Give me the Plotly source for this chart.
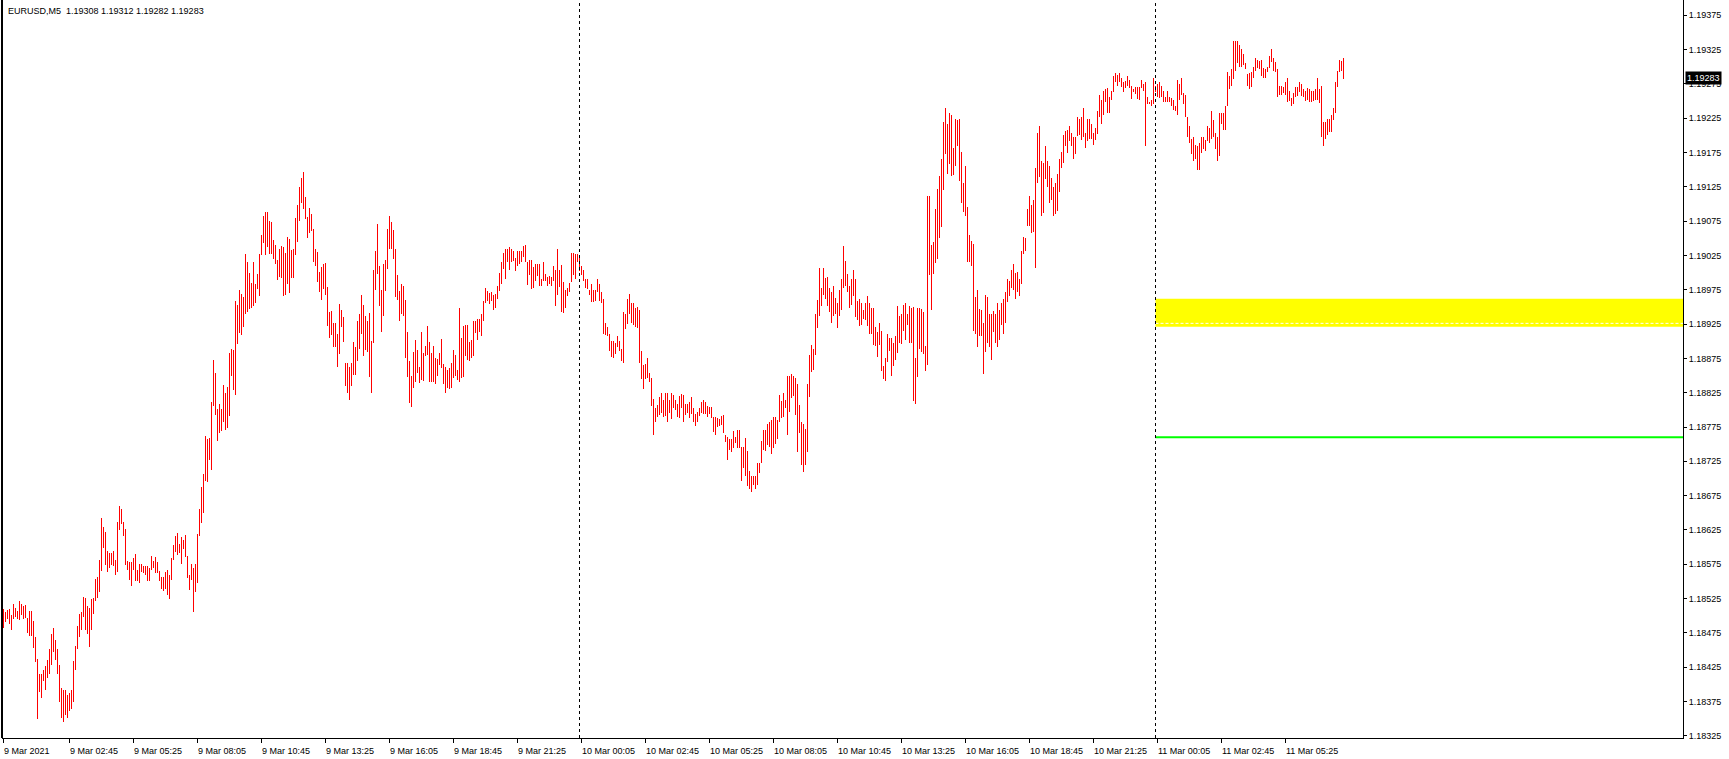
import pandas as pd
import plotly.graph_objects as go

# ---------------- data ----------------
symbol_text = "EURUSD,M5  1.19308 1.19312 1.19282 1.19283"
start_time = "2021-03-09 00:00"
bar_minutes = 5

high = [
    1.18510, 1.18505, 1.18508, 1.18510, 1.18501, 1.18517, 1.18511, 1.18507, 1.18521, 1.18517,
    1.18514, 1.18516, 1.18497, 1.18507, 1.18507, 1.18492, 1.18469, 1.18437, 1.18415, 1.18415,
    1.18421, 1.18427, 1.18435, 1.18451, 1.18473, 1.18482, 1.18465, 1.18452, 1.18428, 1.18395,
    1.18392, 1.18392, 1.18385, 1.18388, 1.18392, 1.18434, 1.18456, 1.18485, 1.18503, 1.18505,
    1.18527, 1.18526, 1.18514, 1.18512, 1.18524, 1.18526, 1.18553, 1.18557, 1.18581, 1.18642,
    1.18629, 1.18622, 1.18594, 1.18592, 1.18591, 1.18595, 1.18582, 1.18636, 1.18660, 1.18655,
    1.18637, 1.18626, 1.18580, 1.18578, 1.18578, 1.18584, 1.18590, 1.18567, 1.18575, 1.18575,
    1.18572, 1.18572, 1.18572, 1.18569, 1.18587, 1.18580, 1.18585, 1.18578, 1.18565, 1.18556,
    1.18556, 1.18564, 1.18567, 1.18559, 1.18584, 1.18603, 1.18616, 1.18621, 1.18605, 1.18615,
    1.18610, 1.18618, 1.18587, 1.18560, 1.18576, 1.18569, 1.18576, 1.18619, 1.18655, 1.18687,
    1.18706, 1.18762, 1.18758, 1.18759, 1.18812, 1.18872, 1.18853, 1.18801, 1.18809, 1.18801,
    1.18836, 1.18825, 1.18833, 1.18883, 1.18888, 1.18887, 1.18959, 1.18953, 1.18975, 1.18969,
    1.18965, 1.19027, 1.19015, 1.19000, 1.18985, 1.19015, 1.18984, 1.18998, 1.19027, 1.19054,
    1.19082, 1.19088, 1.19088, 1.19075,
    1.19074, 1.19048, 1.19040, 1.19019, 1.19035, 1.19039, 1.19037, 1.19028, 1.19052, 1.19049,
    1.19033, 1.19034, 1.19080, 1.19099, 1.19124, 1.19138, 1.19147, 1.19110, 1.19081, 1.19094,
    1.19086, 1.19064, 1.19034, 1.19030, 1.19001, 1.19008, 1.19013, 1.19014, 1.18979, 1.18943,
    1.18944, 1.18927, 1.18927, 1.18911, 1.18954, 1.18946, 1.18935, 1.18868, 1.18868, 1.18863,
    1.18868, 1.18899, 1.18891, 1.18930, 1.18939, 1.18968, 1.18953, 1.18936, 1.18929, 1.18941,
    1.18900, 1.19003, 1.19032, 1.19070, 1.19010, 1.18974, 1.19012, 1.19019, 1.19064, 1.19082,
    1.19073, 1.19062, 1.19035, 1.18997, 1.18973, 1.18984, 1.18981, 1.18960, 1.18914, 1.18871,
    1.18850, 1.18884, 1.18902, 1.18887, 1.18863, 1.18914, 1.18883, 1.18893, 1.18922, 1.18899,
    1.18883, 1.18893, 1.18876, 1.18874, 1.18883, 1.18903, 1.18867, 1.18863, 1.18858, 1.18861,
    1.18868, 1.18887, 1.18880, 1.18858, 1.18949, 1.18905, 1.18922, 1.18924, 1.18924, 1.18899,
    1.18902, 1.18930, 1.18930, 1.18933, 1.18933, 1.18939, 1.18959, 1.18978, 1.18973, 1.18970,
    1.18972, 1.18968, 1.18969, 1.18980, 1.19000, 1.19016, 1.19029, 1.19034, 1.19035, 1.19037,
    1.19034, 1.19032, 1.19021, 1.19032, 1.19032, 1.19032, 1.19038, 1.19040, 1.19016, 1.19019,
    1.19019, 1.19008, 1.19013, 1.19013, 1.19012, 1.18990,
    1.19015, 1.18998, 1.18993, 1.18995, 1.18993, 1.19010, 1.19004, 1.19034, 1.19004, 1.19011,
    1.18986, 1.18975, 1.18978, 1.18985, 1.19028, 1.19028, 1.19027, 1.19027, 1.19022, 1.19009,
    1.19003, 1.18991, 1.18991, 1.18975, 1.18983, 1.18975, 1.18975, 1.18991, 1.18984, 1.18972,
    1.18962, 1.18926, 1.18921, 1.18911, 1.18900, 1.18901, 1.18897, 1.18907, 1.18901, 1.18888,
    1.18943, 1.18940, 1.18962, 1.18969, 1.18955, 1.18955, 1.18949, 1.18950, 1.18946, 1.18886,
    1.18865, 1.18867, 1.18876, 1.18854, 1.18847, 1.18816, 1.18802, 1.18807, 1.18818, 1.18825,
    1.18815, 1.18825, 1.18825, 1.18815, 1.18825, 1.18822, 1.18815, 1.18808, 1.18820, 1.18823,
    1.18821, 1.18808, 1.18809, 1.18811, 1.18818, 1.18802, 1.18794, 1.18797, 1.18803, 1.18812,
    1.18815, 1.18812, 1.18806, 1.18804, 1.18804, 1.18790, 1.18789, 1.18788, 1.18787, 1.18791,
    1.18793, 1.18764, 1.18760, 1.18758, 1.18758, 1.18769, 1.18761, 1.18770, 1.18770, 1.18746,
    1.18746, 1.18759, 1.18740, 1.18711, 1.18703, 1.18703, 1.18703, 1.18722, 1.18722, 1.18754,
    1.18771, 1.18771, 1.18780, 1.18782, 1.18785, 1.18789, 1.18790, 1.18785, 1.18821, 1.18813,
    1.18825, 1.18814, 1.18849, 1.18850, 1.18852, 1.18849, 1.18847, 1.18837, 1.18807, 1.18783,
    1.18780, 1.18772, 1.18837, 1.18880, 1.18894,
    1.18888, 1.18939, 1.18960, 1.19006, 1.18978, 1.19006, 1.18992, 1.18993, 1.18977, 1.18971,
    1.18980, 1.18963, 1.18955, 1.18974, 1.18991, 1.19038, 1.19017, 1.18998, 1.18980, 1.18990,
    1.19003, 1.18990, 1.18959, 1.18961, 1.18955, 1.18945, 1.18955, 1.18966, 1.18955, 1.18949,
    1.18949, 1.18920, 1.18914, 1.18927, 1.18915, 1.18864, 1.18876, 1.18910, 1.18904, 1.18904,
    1.18898, 1.18908, 1.18952, 1.18936, 1.18939, 1.18953, 1.18955, 1.18940, 1.18952, 1.18949,
    1.18950, 1.18876, 1.18949, 1.18949, 1.18947, 1.18943, 1.18893, 1.19112, 1.19111, 1.19040,
    1.19044, 1.19093, 1.19121, 1.19140, 1.19165, 1.19220, 1.19239, 1.19216, 1.19233, 1.19230,
    1.19181, 1.19224, 1.19222, 1.19223, 1.19176, 1.19130, 1.19155, 1.19096, 1.19054, 1.19046,
    1.19041, 1.18965, 1.18974, 1.18947, 1.18946, 1.18926, 1.18968, 1.18965, 1.18939, 1.18940,
    1.18944, 1.18939, 1.18955, 1.18946, 1.18956, 1.18962, 1.18971, 1.18990, 1.18987, 1.19004,
    1.19013, 1.19000, 1.19001, 1.18990, 1.19032, 1.19052, 1.19051, 1.19093, 1.19111, 1.19099,
    1.19105, 1.19152, 1.19204, 1.19213, 1.19162, 1.19160, 1.19185, 1.19162, 1.19155, 1.19137,
    1.19124, 1.19130, 1.19143, 1.19165, 1.19175, 1.19200, 1.19206, 1.19207, 1.19213, 1.19204,
    1.19197, 1.19197, 1.19226, 1.19224, 1.19227,
    1.19239, 1.19204, 1.19224, 1.19223, 1.19217, 1.19204, 1.19211, 1.19235, 1.19258, 1.19252,
    1.19265, 1.19267, 1.19269, 1.19256, 1.19264, 1.19286, 1.19290, 1.19288, 1.19290, 1.19283,
    1.19277, 1.19279, 1.19286, 1.19280, 1.19272, 1.19267, 1.19271, 1.19271, 1.19271, 1.19281,
    1.19275, 1.19277, 1.19256, 1.19249, 1.19252, 1.19283, 1.19272, 1.19274, 1.19277, 1.19272,
    1.19265, 1.19255, 1.19264, 1.19255, 1.19254, 1.19251, 1.19242, 1.19280, 1.19275, 1.19283,
    1.19262, 1.19258, 1.19226, 1.19213, 1.19194, 1.19197, 1.19186, 1.19184, 1.19188, 1.19198,
    1.19197, 1.19193, 1.19214, 1.19210, 1.19235, 1.19222, 1.19203, 1.19197, 1.19232, 1.19233,
    1.19232, 1.19242, 1.19292, 1.19287, 1.19296, 1.19337, 1.19338, 1.19338, 1.19331, 1.19325,
    1.19318, 1.19305, 1.19289, 1.19290, 1.19292, 1.19300, 1.19312, 1.19309, 1.19308, 1.19309,
    1.19298, 1.19297, 1.19300, 1.19315, 1.19325, 1.19312, 1.19306, 1.19296, 1.19272, 1.19272,
    1.19270, 1.19277, 1.19283, 1.19264, 1.19254, 1.19262, 1.19271, 1.19271, 1.19278, 1.19274,
    1.19268, 1.19265, 1.19269, 1.19267, 1.19264, 1.19265, 1.19268, 1.19283, 1.19267, 1.19272,
    1.19220, 1.19220, 1.19223, 1.19223, 1.19229, 1.19240, 1.19277, 1.19293, 1.19309, 1.19308,
    1.19312,
]

low = [
    1.18482, 1.18491, 1.18496, 1.18488, 1.18479, 1.18496, 1.18498, 1.18495, 1.18494, 1.18501,
    1.18496, 1.18497, 1.18475, 1.18471, 1.18471, 1.18453, 1.18432, 1.18350, 1.18389, 1.18381,
    1.18405, 1.18392, 1.18409, 1.18415, 1.18428, 1.18447, 1.18435, 1.18415, 1.18375, 1.18351,
    1.18346, 1.18356, 1.18351, 1.18362, 1.18364, 1.18375, 1.18421, 1.18452, 1.18469, 1.18480,
    1.18498, 1.18480, 1.18473, 1.18454, 1.18480, 1.18502, 1.18522, 1.18526, 1.18535, 1.18565,
    1.18599, 1.18574, 1.18564, 1.18569, 1.18574, 1.18573, 1.18560, 1.18564, 1.18625, 1.18633,
    1.18616, 1.18574, 1.18567, 1.18552, 1.18544, 1.18567, 1.18550, 1.18551, 1.18548, 1.18564,
    1.18563, 1.18560, 1.18551, 1.18551, 1.18567, 1.18569, 1.18562, 1.18563, 1.18550, 1.18539,
    1.18536, 1.18539, 1.18530, 1.18524, 1.18552, 1.18581, 1.18593, 1.18588, 1.18591, 1.18575,
    1.18598, 1.18586, 1.18555, 1.18538, 1.18552, 1.18505, 1.18534, 1.18548, 1.18616, 1.18635,
    1.18650, 1.18696, 1.18695, 1.18727, 1.18712, 1.18806, 1.18792, 1.18755, 1.18766, 1.18769,
    1.18783, 1.18770, 1.18773, 1.18791, 1.18849, 1.18829, 1.18822, 1.18896, 1.18912, 1.18909,
    1.18921, 1.18939, 1.18943, 1.18947, 1.18949, 1.18952, 1.18956, 1.18976, 1.18966, 1.19025,
    1.19043, 1.19026, 1.19037, 1.19027,
    1.19027, 1.19020, 1.19012, 1.18989, 1.18994, 1.18992, 1.18966, 1.18967, 1.18983, 1.18970,
    1.18992, 1.18992, 1.19026, 1.19044, 1.19075, 1.19101, 1.19092, 1.19078, 1.19050, 1.19058,
    1.19061, 1.19016, 1.19009, 1.18986, 1.18971, 1.18960, 1.18976, 1.18967, 1.18922, 1.18905,
    1.18909, 1.18892, 1.18892, 1.18862, 1.18881, 1.18921, 1.18899, 1.18835, 1.18824, 1.18815,
    1.18835, 1.18851, 1.18851, 1.18871, 1.18888, 1.18910, 1.18878, 1.18887, 1.18884, 1.18848,
    1.18825, 1.18897, 1.18975, 1.18998, 1.18952, 1.18914, 1.18937, 1.18973, 1.19005, 1.19035,
    1.19034, 1.19020, 1.18964, 1.18960, 1.18930, 1.18939, 1.18936, 1.18875, 1.18848, 1.18810,
    1.18804, 1.18832, 1.18841, 1.18854, 1.18839, 1.18843, 1.18842, 1.18879, 1.18880, 1.18840,
    1.18840, 1.18841, 1.18837, 1.18850, 1.18866, 1.18861, 1.18837, 1.18824, 1.18832, 1.18830,
    1.18832, 1.18847, 1.18850, 1.18844, 1.18840, 1.18847, 1.18848, 1.18879, 1.18872, 1.18871,
    1.18876, 1.18879, 1.18912, 1.18902, 1.18913, 1.18908, 1.18929, 1.18956, 1.18959, 1.18954,
    1.18958, 1.18945, 1.18949, 1.18962, 1.18973, 1.18983, 1.19005, 1.18991, 1.19016, 1.19003,
    1.19016, 1.19017, 1.19002, 1.19010, 1.19012, 1.19016, 1.19023, 1.19015, 1.18982, 1.18996,
    1.18976, 1.18977, 1.18987, 1.18995, 1.18980, 1.18980,
    1.18987, 1.18988, 1.18980, 1.18983, 1.18981, 1.18988, 1.18952, 1.18968, 1.18979, 1.18943,
    1.18941, 1.18948, 1.18966, 1.18972, 1.18986, 1.18997, 1.18990, 1.19015, 1.19002, 1.18997,
    1.18988, 1.18977, 1.18976, 1.18968, 1.18957, 1.18957, 1.18959, 1.18971, 1.18959, 1.18956,
    1.18910, 1.18909, 1.18908, 1.18885, 1.18877, 1.18876, 1.18882, 1.18891, 1.18885, 1.18871,
    1.18868, 1.18918, 1.18925, 1.18940, 1.18926, 1.18924, 1.18920, 1.18919, 1.18868, 1.18845,
    1.18830, 1.18845, 1.18847, 1.18840, 1.18805, 1.18763, 1.18782, 1.18790, 1.18793, 1.18795,
    1.18790, 1.18791, 1.18782, 1.18795, 1.18787, 1.18802, 1.18800, 1.18789, 1.18788, 1.18803,
    1.18782, 1.18792, 1.18795, 1.18788, 1.18794, 1.18782, 1.18777, 1.18783, 1.18791, 1.18796,
    1.18794, 1.18794, 1.18789, 1.18794, 1.18788, 1.18768, 1.18763, 1.18775, 1.18776, 1.18778,
    1.18767, 1.18753, 1.18727, 1.18742, 1.18739, 1.18745, 1.18752, 1.18745, 1.18745, 1.18697,
    1.18716, 1.18703, 1.18689, 1.18684, 1.18680, 1.18690, 1.18685, 1.18690, 1.18708, 1.18722,
    1.18742, 1.18740, 1.18749, 1.18746, 1.18736, 1.18744, 1.18750, 1.18757, 1.18782, 1.18788,
    1.18789, 1.18802, 1.18763, 1.18797, 1.18817, 1.18820, 1.18792, 1.18738, 1.18767, 1.18720,
    1.18709, 1.18719, 1.18738, 1.18819, 1.18855,
    1.18858, 1.18880, 1.18919, 1.18937, 1.18952, 1.18967, 1.18962, 1.18952, 1.18942, 1.18926,
    1.18937, 1.18940, 1.18919, 1.18937, 1.18945, 1.18977, 1.18980, 1.18972, 1.18948, 1.18953,
    1.18966, 1.18935, 1.18931, 1.18922, 1.18924, 1.18933, 1.18931, 1.18922, 1.18910, 1.18910,
    1.18894, 1.18893, 1.18877, 1.18894, 1.18856, 1.18845, 1.18842, 1.18869, 1.18886, 1.18850,
    1.18864, 1.18872, 1.18883, 1.18898, 1.18896, 1.18915, 1.18902, 1.18923, 1.18898, 1.18898,
    1.18813, 1.18809, 1.18848, 1.18889, 1.18884, 1.18882, 1.18857, 1.18866, 1.18996, 1.18946,
    1.18998, 1.19014, 1.19020, 1.19050, 1.19067, 1.19120, 1.19172, 1.19144, 1.19158, 1.19141,
    1.19142, 1.19155, 1.19185, 1.19133, 1.19102, 1.19088, 1.19082, 1.19015, 1.19015, 1.19010,
    1.18915, 1.18910, 1.18891, 1.18908, 1.18908, 1.18852, 1.18884, 1.18897, 1.18892, 1.18873,
    1.18913, 1.18898, 1.18891, 1.18902, 1.18923, 1.18910, 1.18926, 1.18957, 1.18966, 1.18978,
    1.18974, 1.18961, 1.18972, 1.18966, 1.18983, 1.19027, 1.19031, 1.19068, 1.19068, 1.19058,
    1.19059, 1.19007, 1.19131, 1.19139, 1.19082, 1.19087, 1.19136, 1.19124, 1.19101, 1.19106,
    1.19082, 1.19085, 1.19090, 1.19117, 1.19152, 1.19159, 1.19184, 1.19174, 1.19192, 1.19184,
    1.19166, 1.19173, 1.19199, 1.19200, 1.19193,
    1.19197, 1.19181, 1.19192, 1.19194, 1.19195, 1.19186, 1.19193, 1.19202, 1.19227, 1.19216,
    1.19229, 1.19248, 1.19232, 1.19232, 1.19252, 1.19263, 1.19277, 1.19272, 1.19277, 1.19270,
    1.19263, 1.19269, 1.19272, 1.19269, 1.19253, 1.19263, 1.19260, 1.19253, 1.19252, 1.19269,
    1.19265, 1.19184, 1.19245, 1.19245, 1.19243, 1.19246, 1.19263, 1.19256, 1.19254, 1.19255,
    1.19249, 1.19249, 1.19248, 1.19248, 1.19243, 1.19237, 1.19236, 1.19230, 1.19251, 1.19258,
    1.19245, 1.19227, 1.19198, 1.19188, 1.19172, 1.19163, 1.19166, 1.19149, 1.19150, 1.19174,
    1.19180, 1.19177, 1.19192, 1.19189, 1.19194, 1.19197, 1.19180, 1.19163, 1.19170, 1.19216,
    1.19208, 1.19208, 1.19243, 1.19268, 1.19272, 1.19282, 1.19294, 1.19305, 1.19299, 1.19299,
    1.19302, 1.19297, 1.19272, 1.19268, 1.19270, 1.19284, 1.19293, 1.19298, 1.19296, 1.19287,
    1.19284, 1.19283, 1.19292, 1.19298, 1.19306, 1.19294, 1.19292, 1.19256, 1.19258, 1.19258,
    1.19261, 1.19258, 1.19248, 1.19250, 1.19242, 1.19245, 1.19255, 1.19257, 1.19263, 1.19257,
    1.19256, 1.19250, 1.19252, 1.19248, 1.19249, 1.19250, 1.19252, 1.19252, 1.19247, 1.19198,
    1.19184, 1.19195, 1.19200, 1.19205, 1.19205, 1.19222, 1.19232, 1.19270, 1.19292, 1.19294,
    1.19282,
]

last_close = 1.19283
zone_top = 1.18962
zone_bottom = 1.18921
zone_line = 1.18926
support_level = 1.18760
day_separators = ["2021-03-10 00:00", "2021-03-11 00:00"]
zone_start = "2021-03-11 00:00"

tick_times = [
    "2021-03-09 00:00", "2021-03-09 02:45", "2021-03-09 05:25", "2021-03-09 08:05",
    "2021-03-09 10:45", "2021-03-09 13:25", "2021-03-09 16:05", "2021-03-09 18:45",
    "2021-03-09 21:25", "2021-03-10 00:05", "2021-03-10 02:45", "2021-03-10 05:25",
    "2021-03-10 08:05", "2021-03-10 10:45", "2021-03-10 13:25", "2021-03-10 16:05",
    "2021-03-10 18:45", "2021-03-10 21:25", "2021-03-11 00:05", "2021-03-11 02:45",
    "2021-03-11 05:25",
]
tick_labels = [
    "9 Mar 2021", "9 Mar 02:45", "9 Mar 05:25", "9 Mar 08:05",
    "9 Mar 10:45", "9 Mar 13:25", "9 Mar 16:05", "9 Mar 18:45",
    "9 Mar 21:25", "10 Mar 00:05", "10 Mar 02:45", "10 Mar 05:25",
    "10 Mar 08:05", "10 Mar 10:45", "10 Mar 13:25", "10 Mar 16:05",
    "10 Mar 18:45", "10 Mar 21:25", "11 Mar 00:05", "11 Mar 02:45",
    "11 Mar 05:25",
]

# ---------------- figure ----------------
W, H = 1729, 759
ML, MR, MT, MB = 2, 46, 0, 21
FONT = "Liberation Sans"

step = pd.Timedelta(minutes=bar_minutes)
times = pd.date_range(start_time, periods=len(high), freq=f"{bar_minutes}min")
plot_w = W - ML - MR
bars_visible = plot_w / 2.0  # 2 px per bar as in the terminal
x_start = times[0] - 0.75 * step
x_end = x_start + bars_visible * step

fig = go.Figure()
fig.add_trace(go.Bar(
    x=times,
    base=low,
    y=[h - l for h, l in zip(high, low)],
    width=0.5 * step.total_seconds() * 1000,
    marker=dict(color="#ff0000", line=dict(width=0)),
    hoverinfo="skip",
    showlegend=False,
))

shapes = []
# yellow zone
shapes.append(dict(type="rect", xref="x", yref="y", x0=zone_start, x1=x_end,
                   y0=zone_bottom, y1=zone_top, fillcolor="#ffff00",
                   line=dict(width=0), layer="above"))
shapes.append(dict(type="line", xref="x", yref="y", x0=zone_start, x1=x_end,
                   y0=zone_line, y1=zone_line, layer="above",
                   line=dict(color="#ffffff", width=1, dash="3px,2px")))
shapes.append(dict(type="line", xref="x", yref="y", x0=zone_start, x1=x_end,
                   y0=support_level, y1=support_level,
                   line=dict(color="#00ff00", width=2)))
for d in day_separators:
    shapes.append(dict(type="line", xref="x", yref="paper", x0=d, x1=d, y0=0, y1=1,
                       line=dict(color="black", width=1, dash="3px,3px")))
# left frame line
shapes.append(dict(type="line", xref="paper", yref="paper", x0=0, x1=0, y0=0, y1=1,
                   line=dict(color="black", width=2)))

annotations = []
annotations.append(dict(xref="paper", yref="paper", x=0, y=1, xanchor="left",
                        yanchor="middle", xshift=4, yshift=-11, showarrow=False,
                        text=symbol_text, font=dict(family=FONT, size=9, color="black")))
annotations.append(dict(xref="paper", yref="y", x=1, y=last_close, xanchor="left",
                        yanchor="middle", xshift=2, showarrow=False,
                        text=f"{last_close:.5f}", bgcolor="black", borderpad=1,
                        font=dict(family=FONT, size=9, color="white")))
for t, lab in zip(tick_times, tick_labels):
    annotations.append(dict(xref="x", yref="paper", x=t, y=0, xanchor="left",
                            yanchor="middle", xshift=-2, yshift=-13, showarrow=False,
                            text=lab, font=dict(family=FONT, size=9, color="black")))

fig.update_layout(
    width=W, height=H,
    margin=dict(l=ML, r=MR, t=MT, b=MB, pad=0),
    paper_bgcolor="white", plot_bgcolor="white",
    font=dict(family=FONT, size=9, color="black"),
    bargap=0,
    shapes=shapes,
    annotations=annotations,
    xaxis=dict(
        type="date", range=[x_start, x_end], showgrid=False, zeroline=False,
        showline=True, linecolor="black", linewidth=1,
        ticks="outside", ticklen=4, tickcolor="black", tickwidth=1,
        tickvals=tick_times, ticktext=[""] * len(tick_times),
        fixedrange=True,
    ),
    yaxis=dict(
        side="right", range=[1.18322, 1.19397], showgrid=False, zeroline=False,
        showline=True, linecolor="black", linewidth=1,
        ticks="outside", ticklen=3, tickcolor="black", tickwidth=1,
        tick0=1.18325, dtick=0.0005, tickformat=".5f",
        tickfont=dict(family=FONT, size=9, color="black"),
        fixedrange=True,
    ),
)

fig.write_html("out.html", config={"displayModeBar": False},
               post_script="document.body.style.margin='0';document.body.style.overflow='hidden';")
